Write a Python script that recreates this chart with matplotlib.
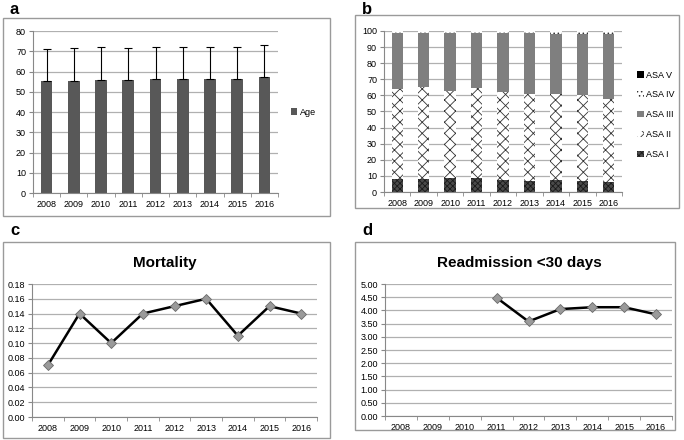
import matplotlib.pyplot as plt
import numpy as np
from matplotlib.patches import Rectangle

years = ["2008", "2009", "2010", "2011", "2012", "2013", "2014", "2015", "2016"]

age_mean = [55.5, 55.5, 56.0, 56.0, 56.5, 56.5, 56.5, 56.5, 57.3]
age_sd = [15.5, 16.3, 16.3, 15.5, 15.8, 15.8, 15.8, 15.8, 16.0]

asa1 = [8.0, 8.0, 8.5, 8.5, 7.5, 7.0, 7.5, 7.0, 6.5]
asa2 = [56.0, 57.0, 54.5, 56.0, 54.5, 54.0, 53.5, 53.0, 51.5]
asa3 = [35.0, 33.5, 35.5, 34.0, 36.5, 37.5, 37.0, 38.0, 40.0]
asa4 = [1.0, 1.5, 1.5, 1.5, 1.5, 1.5, 2.0, 2.0, 2.0]
asa5 = [0.0, 0.0, 0.0, 0.0, 0.0, 0.0, 0.0, 0.0, 0.0]

mortality = [0.07, 0.14, 0.10, 0.14, 0.15, 0.16, 0.11, 0.15, 0.14]
readmission = [np.nan, np.nan, np.nan, 4.48, 3.58, 4.05, 4.12, 4.12, 3.85]

plt.rcParams['font.family'] = ['Liberation Sans', 'DejaVu Sans']
plt.rcParams['hatch.linewidth'] = 0.6

W, H = 684, 440
fig = plt.figure(figsize=(W / 100, H / 100), dpi=100)


def fbox(x0, y0, x1, y1):
    # rectangle in pixel coords (top-left origin) -> figure fraction
    return [x0 / W, 1 - y1 / H, (x1 - x0) / W, (y1 - y0) / H]


def frame(x0, y0, x1, y1):
    r = Rectangle((x0 / W, 1 - y1 / H), (x1 - x0) / W, (y1 - y0) / H,
                  transform=fig.transFigure, fill=False, edgecolor='#9a9a9a', lw=1.0)
    fig.patches.append(r)


def style(ax):
    x = np.arange(len(years))
    ax.set_xlim(-0.5, len(years) - 0.5)
    ax.set_xticks(x)
    ax.set_xticklabels(years, fontsize=6.5)
    ax.set_xticks(np.arange(-0.5, len(years)), minor=True)
    ax.tick_params(axis='x', which='major', length=0, pad=5)
    ax.tick_params(axis='x', which='minor', length=3, color='#888888')
    ax.tick_params(axis='y', length=3, color='#888888', labelsize=6.5, pad=2)
    for s in ['top', 'right']:
        ax.spines[s].set_visible(False)
    for s in ['left', 'bottom']:
        ax.spines[s].set_color('#888888')
        ax.spines[s].set_linewidth(0.8)
    ax.yaxis.grid(True, color='#b0b0b0', lw=0.9)
    ax.set_axisbelow(True)


x = np.arange(len(years))

# panel a
frame(3, 18, 330, 216)
fig.text(10 / W, 1 - 9 / H, "a", fontsize=12, fontweight='bold', va='center')
ax = fig.add_axes(fbox(33, 31, 278, 193))
ax.bar(x, age_mean, width=0.43, color='#585858', label='Age')
ax.errorbar(x, age_mean, yerr=[np.zeros(len(x)), age_sd], fmt='none',
            ecolor='black', elinewidth=0.8, capsize=3, capthick=0.8)
ax.set_ylim(0, 80)
ax.set_yticks(range(0, 81, 10))
style(ax)
ax.legend(loc='center left', bbox_to_anchor=(1.02, 0.5), frameon=False,
          fontsize=6.5, handlelength=0.7, handletextpad=0.3)

# panel b
frame(355, 15, 679, 208)
fig.text(362 / W, 1 - 9 / H, "b", fontsize=12, fontweight='bold', va='center')
ax = fig.add_axes(fbox(384, 31, 622, 192))
bw = 0.43
b = np.zeros(len(x))
h1 = ax.bar(x, asa1, bw, bottom=b, color='#4a4a4a', hatch='xxxxxx', edgecolor='#1a1a1a', lw=0, label='ASA I')
b += asa1
h2 = ax.bar(x, asa2, bw, bottom=b, color='white', hatch='xxx', edgecolor='#333333', lw=0, label='ASA II')
b += asa2
h3 = ax.bar(x, asa3, bw, bottom=b, color='#7f7f7f', lw=0, label='ASA III')
b += asa3
h4 = ax.bar(x, asa4, bw, bottom=b, color='white', hatch='....', edgecolor='#333333', lw=0, label='ASA IV')
b += asa4
h5 = ax.bar(x, asa5, bw, bottom=b, color='black', lw=0, label='ASA V')
ax.set_ylim(0, 100)
ax.set_yticks(range(0, 101, 10))
style(ax)
ax.legend([h5, h4, h3, h2, h1], ['ASA V', 'ASA IV', 'ASA III', 'ASA II', 'ASA I'],
          loc='center left', bbox_to_anchor=(1.03, 0.48), frameon=False,
          fontsize=6.5, handlelength=0.7, handleheight=0.7, handletextpad=0.3,
          labelspacing=1.2)

# panel c
frame(3, 242, 330, 438)
fig.text(10 / W, 1 - 230 / H, "c", fontsize=12, fontweight='bold', va='center')
ax = fig.add_axes(fbox(32, 284, 317, 417))
ax.plot(x, mortality, color='black', lw=1.8, marker='D', markersize=5,
        markerfacecolor='#9a9a9a', markeredgecolor='#6a6a6a', markeredgewidth=0.6)
ax.set_ylim(0, 0.18)
ax.set_yticks(np.arange(0, 0.181, 0.02))
ax.yaxis.set_major_formatter(plt.FuncFormatter(lambda v, p: f"{v:.2f}"))
style(ax)
fig.text(165 / W, 1 - 263 / H, "Mortality", fontsize=11, fontweight='bold',
         ha='center', va='center')

# panel d
frame(355, 242, 675, 430)
fig.text(362 / W, 1 - 230 / H, "d", fontsize=12, fontweight='bold', va='center')
ax = fig.add_axes(fbox(385, 284, 672, 416))
ax.plot(x, readmission, color='black', lw=1.8, marker='D', markersize=5,
        markerfacecolor='#9a9a9a', markeredgecolor='#6a6a6a', markeredgewidth=0.6)
ax.set_ylim(0, 5)
ax.set_yticks(np.arange(0, 5.01, 0.5))
ax.yaxis.set_major_formatter(plt.FuncFormatter(lambda v, p: f"{v:.2f}"))
style(ax)
fig.text(519 / W, 1 - 263 / H, "Readmission <30 days", fontsize=11, fontweight='bold',
         ha='center', va='center')

fig.savefig("out.png", dpi=100)
